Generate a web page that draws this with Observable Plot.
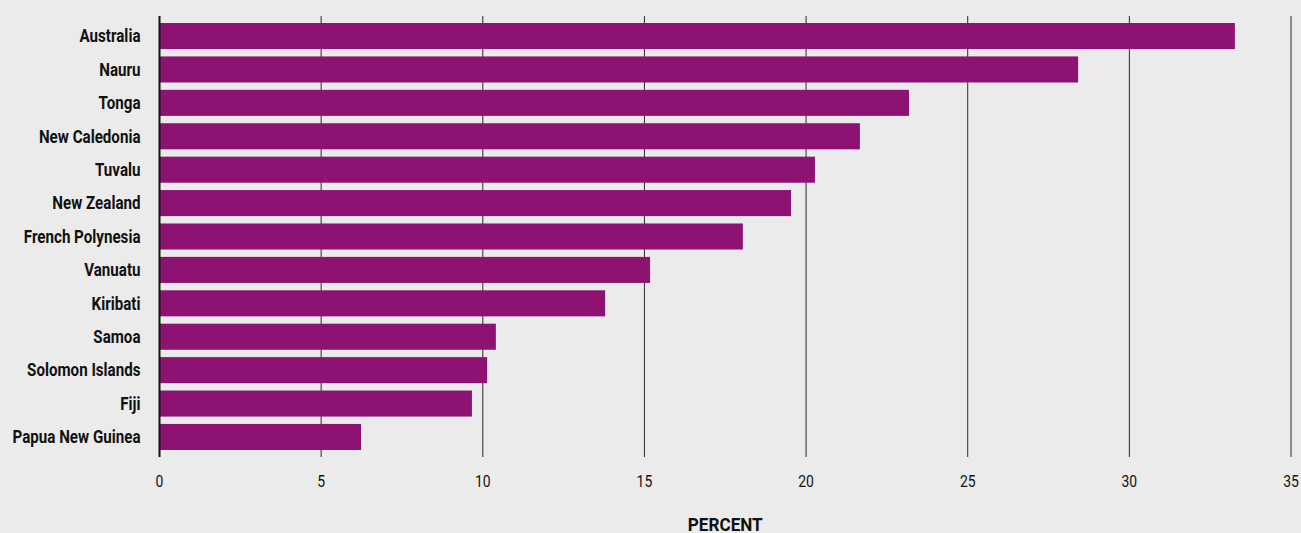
<!DOCTYPE html>
<html>
<head>
<meta charset="utf-8">
<script src="https://cdn.jsdelivr.net/npm/d3@7"></script>
<script src="https://cdn.jsdelivr.net/npm/@observablehq/plot@0.6"></script>
<style>
  html, body { margin: 0; padding: 0; background: #ebebeb; }
  #chart svg { display: block; }
</style>
</head>
<body>
<div id="chart"></div>
<script>
const countries = ["Australia", "Nauru", "Tonga", "New Caledonia", "Tuvalu", "New Zealand", "French Polynesia", "Vanuatu", "Kiribati", "Samoa", "Solomon Islands", "Fiji", "Papua New Guinea"];
const values = [33.28, 28.43, 23.2, 21.68, 20.29, 19.55, 18.06, 15.19, 13.8, 10.42, 10.15, 9.68, 6.25];
const xTicks = [0, 5, 10, 15, 20, 25, 30, 35];
const xLabel = "PERCENT";

const data = countries.map((c, i) => ({country: c, value: values[i]}));
const font = "Roboto, 'DejaVu Sans Condensed', sans-serif";

const chart = Plot.plot({
  width: 1301,
  height: 533,
  marginLeft: 159,
  marginRight: 10.5,
  marginTop: 16,
  marginBottom: 76,
  style: {background: "#ebebeb", fontFamily: font, color: "#111"},
  x: {domain: [0, 35]},
  y: {domain: countries, paddingInner: 0.22, paddingOuter: 0.21, round: false},
  marks: [
    Plot.gridX(xTicks, {stroke: "#2a2a2a", strokeOpacity: 1, strokeWidth: 1}),
    Plot.barX(data, {x: "value", y: "country", fill: "#8d1271"}),
    Plot.ruleX([0], {stroke: "#111", strokeWidth: 2}),
    Plot.axisX(xTicks, {tickSize: 0, tickPadding: 17, fontSize: 17, label: xLabel, labelAnchor: "center", labelArrow: "none", labelOffset: 73, tickFormat: d => String(d)}),
    Plot.axisY({tickSize: 0, tickPadding: 19, fontSize: 18, fontWeight: "bold", label: null})
  ]
});
document.getElementById("chart").appendChild(chart);

function squeeze(texts, factor) {
  texts.forEach(t => {
    const tr = t.getAttribute("transform") || "";
    t.setAttribute("transform", tr + ` scale(${factor},1)`);
  });
}
// y labels: condensed look
const yTexts = Array.from(chart.querySelectorAll("g[aria-label='y-axis tick label'] text"));
const pngText = yTexts.find(t => t.textContent === "Papua New Guinea");
const fy = pngText ? 128 / pngText.getComputedTextLength() : 0.78;
squeeze(yTexts, fy);
// x tick labels
const xTexts = Array.from(chart.querySelectorAll("g[aria-label='x-axis tick label'] text"));
squeeze(xTexts, 0.82);
// x label
const lab = Array.from(chart.querySelectorAll("g[aria-label='x-axis label'] text"));
lab.forEach(t => { t.setAttribute("font-weight", "bold"); t.setAttribute("font-size", "19"); });
if (lab[0]) {
  const f = 75 / lab[0].getComputedTextLength();
  squeeze(lab, f);
}
</script>
</body>
</html>
